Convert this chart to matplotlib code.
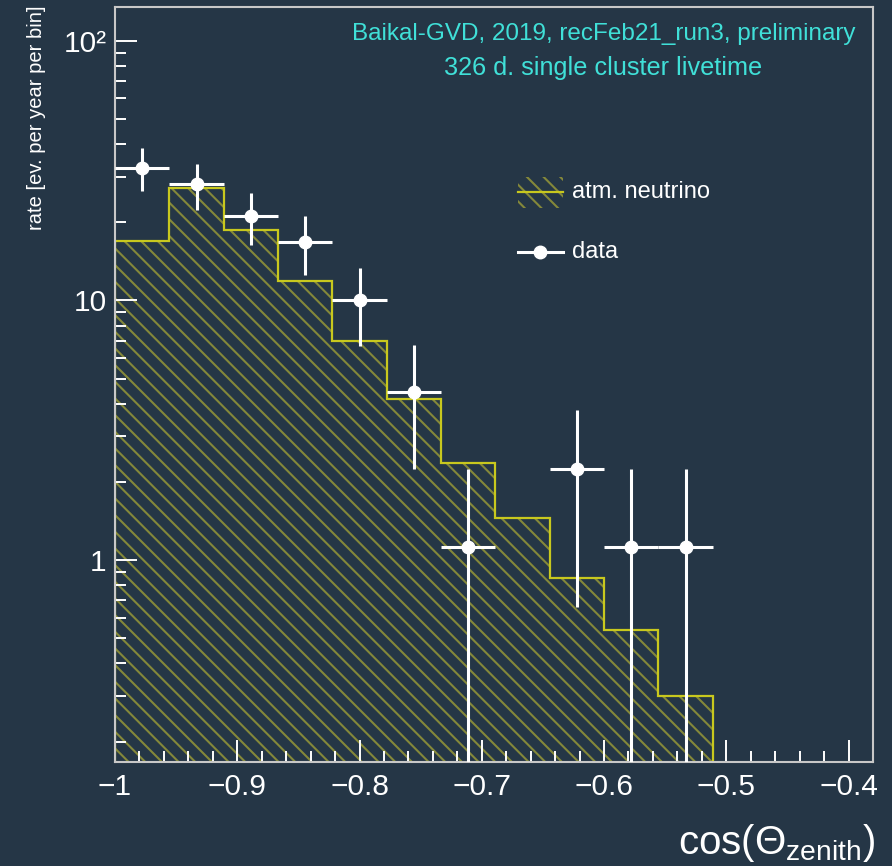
import numpy as np
import matplotlib
matplotlib.use("Agg")
import matplotlib.pyplot as plt
from matplotlib.patches import Rectangle
from matplotlib.lines import Line2D
from matplotlib.ticker import FixedLocator, FixedFormatter, MultipleLocator, FuncFormatter

# histogram binning (18 bins over [-1, -0.2], only first 11 filled)
bin_edges = [-1.0, -0.9556, -0.9111, -0.8667, -0.8222, -0.7778, -0.7333,
             -0.6889, -0.6444, -0.6, -0.5556, -0.5111]
# atm. neutrino expectation (ev. per year per bin)
mc_rate = [16.9, 27.2, 18.7, 11.9, 6.98, 4.17, 2.37, 1.45, 0.853, 0.537, 0.299]

# data points (bin centres), rate and errors; bin 8 is empty
data_x = [-0.9778, -0.9333, -0.8889, -0.8444, -0.8, -0.7556, -0.7111,
          -0.6222, -0.5778, -0.5333]
data_rate = [32.5, 28.0, 21.2, 16.8, 10.0, 4.45, 1.12, 2.24, 1.12, 1.12]
data_err_lo = [6.0, 5.6, 4.8, 4.3, 3.3, 2.2, 1.12, 1.58, 1.12, 1.12]
data_err_hi = [6.0, 5.6, 4.8, 4.3, 3.3, 2.3, 1.12, 1.56, 1.12, 1.12]
data_xerr = 0.0222

bg = "#253646"
hatch_col = "#84883a"
line_col = "#c8c81e"
text_col = "#40e0d8"
axis_col = "#c8c8c8"

W, H = 892, 866
plt.rcParams["font.family"] = ["Liberation Sans", "DejaVu Sans"]
plt.rcParams["mathtext.fontset"] = "custom"
plt.rcParams["mathtext.rm"] = "Liberation Sans"
plt.rcParams["mathtext.it"] = "Liberation Sans:italic"
plt.rcParams["hatch.linewidth"] = 1.5

fig = plt.figure(figsize=(W / 100, H / 100), dpi=100, facecolor=bg)


def fx(px):
    return px / W


def fy(py):
    return 1 - py / H


ax = fig.add_axes([fx(115), fy(762), fx(873) - fx(115), fy(7) - fy(762)])
ax.set_facecolor(bg)
ax.set_yscale("log")
ax.set_xlim(-1.0, -0.38)
ax.set_ylim(0.1668, 135)

# hatched MC histogram
ax.stairs(mc_rate, bin_edges, baseline=0.1, fill=True, facecolor="none",
          edgecolor=hatch_col, hatch="\\\\", linewidth=0)
ax.stairs(mc_rate, bin_edges, baseline=0.1, color=line_col, linewidth=1.6)

# data
ax.errorbar(data_x, data_rate, yerr=[data_err_lo, data_err_hi], xerr=data_xerr,
            fmt="o", color="white", ms=9, elinewidth=2.2, capsize=0, zorder=5)

# axes styling
for s in ax.spines.values():
    s.set_color(axis_col)
    s.set_linewidth(1.5)
ax.tick_params(which="both", direction="in", colors="white", top=False, right=False,
               labelsize=21.5)
ax.tick_params(which="major", length=16, width=1.4)
ax.tick_params(which="minor", length=8, width=1.4)
ax.tick_params(axis="x", pad=8)
ax.tick_params(axis="y", pad=6)

ax.xaxis.set_major_locator(MultipleLocator(0.1))
ax.xaxis.set_minor_locator(MultipleLocator(0.02))
ax.xaxis.set_major_formatter(FuncFormatter(lambda v, p: ("%g" % round(v, 2)).replace("-", "\u2212")))

ax.yaxis.set_major_locator(FixedLocator([1, 10, 100]))
ax.yaxis.set_major_formatter(FixedFormatter(["1", "10", "10\u00b2"]))
minors = [m * 10.0 ** e for e in (-1, 0, 1, 2) for m in range(2, 10)]
ax.yaxis.set_minor_locator(FixedLocator(minors))
ax.yaxis.set_minor_formatter(FixedFormatter([""] * len(minors)))

# axis titles
fig.text(fx(37), fy(5), "rate [ev. per year per bin]", rotation=90, ha="center",
         va="top", color="white", fontsize=14.5)
fig.text(fx(875), fy(864), r"$\mathrm{cos(}\Theta_{\mathrm{zenith}}\mathrm{)}$",
         ha="right", va="bottom", color="white", fontsize=29)

# labels
fig.text(fx(604), fy(40), "Baikal-GVD, 2019, recFeb21_run3, preliminary", ha="center",
         va="baseline", color=text_col, fontsize=17.5)
fig.text(fx(603), fy(75), "326 d. single cluster livetime", ha="center",
         va="baseline", color=text_col, fontsize=18.2)

# legend
fig.patches.append(Rectangle((fx(518), fy(208)), fx(563) - fx(518), fy(177) - fy(208),
                             transform=fig.transFigure, facecolor="none",
                             edgecolor=hatch_col, hatch="\\\\", linewidth=0))
fig.lines.append(Line2D([fx(518), fx(563)], [fy(192), fy(192)], transform=fig.transFigure,
                        color=line_col, linewidth=1.6))
fig.text(fx(572), fy(192), "atm. neutrino", ha="left", va="center", color="white",
         fontsize=17)
fig.lines.append(Line2D([fx(518), fx(563)], [fy(252), fy(252)], transform=fig.transFigure,
                        color="white", linewidth=2.2))
fig.lines.append(Line2D([fx(540)], [fy(252)], transform=fig.transFigure, marker="o",
                        color="white", ms=9))
fig.text(fx(572), fy(252), "data", ha="left", va="center", color="white", fontsize=17)

fig.savefig("out.png", dpi=100, facecolor=bg)
